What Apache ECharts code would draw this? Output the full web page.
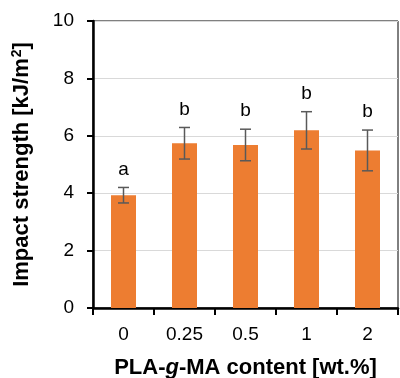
<!DOCTYPE html>
<html>
<head>
<meta charset="utf-8">
<script src="https://cdn.jsdelivr.net/npm/echarts@6/dist/echarts.min.js"></script>
<style>html,body{margin:0;padding:0;background:#fff}#c{width:400px;height:378px}</style>
</head>
<body>
<div id="c"></div>
<script>
var categories = ['0', '0.25', '0.5', '1', '2'];
var values = [3.93, 5.74, 5.68, 6.19, 5.49];
var errors = [0.27, 0.55, 0.55, 0.65, 0.71];
var letters = ['a', 'b', 'b', 'b', 'b'];
var yTicks = [0, 2, 4, 6, 8, 10];

var FF = '"Liberation Sans", Arial, sans-serif';
var chart = echarts.init(document.getElementById('c'));
var errData = categories.map(function (c, i) { return [i, values[i], errors[i]]; });

chart.setOption({
  animation: false,
  grid: { left: 93, right: 2, top: 21, bottom: 70, show: true, borderColor: '#000', borderWidth: 1,
    containLabel: false, outerBoundsMode: 'none' },
  xAxis: {
    type: 'category',
    data: categories,
    name: '{b|PLA-}{i|g}{b|-MA content [wt.%]}',
    nameLocation: 'middle',
    nameGap: 49,
    nameTextStyle: {
      rich: {
        b: { fontFamily: FF, fontWeight: 'bold', fontSize: 22, color: '#000' },
        i: { fontFamily: FF, fontWeight: 'bold', fontStyle: 'italic', fontSize: 22, color: '#000' }
      }
    },
    axisLine: { lineStyle: { color: '#000', width: 2.5 } },
    axisTick: { show: true, length: 7, lineStyle: { color: '#000', width: 2 } },
    axisLabel: { fontFamily: FF, fontSize: 19, color: '#000', margin: 17 }
  },
  yAxis: {
    type: 'value',
    min: 0, max: 10, interval: 2,
    name: '{a|Impact strength [kJ/m}{s|2}{a|]}',
    nameLocation: 'middle',
    nameGap: 59,
    nameTextStyle: {
      rich: {
        a: { fontFamily: FF, fontWeight: 'bold', fontSize: 22, color: '#000', lineHeight: 24 },
        s: { fontFamily: FF, fontWeight: 'bold', fontSize: 14, color: '#000', verticalAlign: 'top', lineHeight: 24, padding: [0, 0, 10, 1] }
      }
    },
    axisLine: { show: true, lineStyle: { color: '#000', width: 2.5 } },
    axisTick: { show: true, length: 6, lineStyle: { color: '#000', width: 2 } },
    axisLabel: { fontFamily: FF, fontSize: 19, color: '#000', margin: 19,
      formatter: function (v) { return yTicks.indexOf(v) >= 0 ? String(v) : ''; } },
    splitLine: { lineStyle: { color: '#d9d9d9', width: 1 } }
  },
  series: [
    {
      type: 'bar',
      data: values,
      barWidth: 25,
      itemStyle: { color: '#ED7D31' }
    },
    {
      type: 'custom',
      data: errData,
      z: 10,
      renderItem: function (params, api) {
        var x = api.value(0), v = api.value(1), e = api.value(2);
        var top = api.coord([x, v + e]);
        var bot = api.coord([x, v - e]);
        var hw = 5.5;
        var st = { stroke: '#595959', lineWidth: 1.5 };
        return {
          type: 'group',
          children: [
            { type: 'line', shape: { x1: top[0], y1: top[1], x2: bot[0], y2: bot[1] }, style: st },
            { type: 'line', shape: { x1: top[0] - hw, y1: top[1], x2: top[0] + hw, y2: top[1] }, style: st },
            { type: 'line', shape: { x1: bot[0] - hw, y1: bot[1], x2: bot[0] + hw, y2: bot[1] }, style: st },
            { type: 'text', style: { text: letters[params.dataIndex], x: top[0], y: top[1] - 18,
              textAlign: 'center', textVerticalAlign: 'middle',
              font: '19px "Liberation Sans", Arial', fill: '#000' } }
          ]
        };
      }
    }
  ]
});
</script>
</body>
</html>
